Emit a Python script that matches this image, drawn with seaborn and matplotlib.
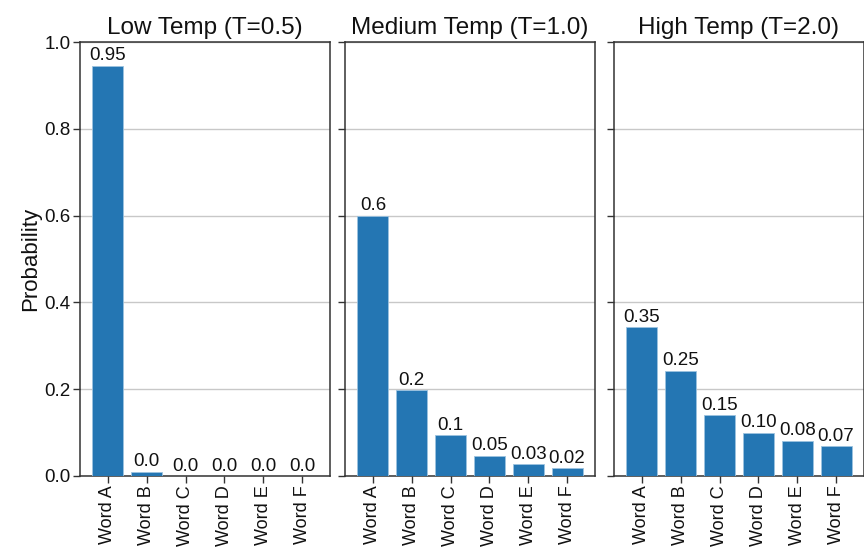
import matplotlib
matplotlib.use("Agg")
import matplotlib.pyplot as plt
import seaborn as sns
import pandas as pd

words = ["Word A", "Word B", "Word C", "Word D", "Word E", "Word F"]
titles = ["Low Temp (T=0.5)", "Medium Temp (T=1.0)", "High Temp (T=2.0)"]
low_vals = [0.945, 0.01, 0.0, 0.0, 0.0, 0.0]
med_vals = [0.6, 0.198, 0.094, 0.047, 0.027, 0.018]
high_vals = [0.343, 0.243, 0.14, 0.10, 0.081, 0.068]
low_labels = ["0.95", "0.0", "0.0", "0.0", "0.0", "0.0"]
med_labels = ["0.6", "0.2", "0.1", "0.05", "0.03", "0.02"]
high_labels = ["0.35", "0.25", "0.15", "0.10", "0.08", "0.07"]
y_ticks = [0.0, 0.2, 0.4, 0.6, 0.8, 1.0]

sns.set_theme(style="ticks")
plt.rcParams["font.family"] = ["Liberation Sans", "DejaVu Sans"]

W, H = 864, 549
fig = plt.figure(figsize=(W / 100, H / 100), dpi=100)
fig.patch.set_facecolor("white")

top, bottom = 42, 476
lefts = [80, 345, 614]
pw = 250
bar_color = "#2476b3"

series = [(low_vals, low_labels), (med_vals, med_labels), (high_vals, high_labels)]
axes = []
for i, (vals, labs) in enumerate(series):
    ax = fig.add_axes([lefts[i] / W, 1 - bottom / H, pw / W, (bottom - top) / H])
    df = pd.DataFrame({"word": words, "prob": vals})
    sns.barplot(data=df, x="word", y="prob", ax=ax, color=bar_color,
                saturation=1, width=0.8, edgecolor="#9cc3e0", linewidth=0.6,
                zorder=3)
    ax.bar_label(ax.containers[0], labels=labs, padding=1, fontsize=13.5,
                 color="#111111")
    ax.set_xlim(-0.72, 5.72)
    ax.set_ylim(0, 1.0)
    ax.set_yticks(y_ticks)
    ax.yaxis.grid(True, color="#c8c8c8", linewidth=1.0, zorder=0)
    ax.set_axisbelow(True)
    ax.set_title(titles[i], fontsize=17.5, pad=6, color="#111111")
    ax.set_xlabel("")
    ax.tick_params(axis="x", rotation=90, labelsize=13, length=5, width=1,
                   pad=2, colors="#333333", labelcolor="#111111")
    ax.tick_params(axis="y", labelsize=13.5, length=5, width=1, pad=2,
                   colors="#333333", labelcolor="#111111")
    for s in ax.spines.values():
        s.set_color("#333333")
        s.set_linewidth(1.1)
    if i == 0:
        ax.set_ylabel("Probability", fontsize=16, color="#111111", labelpad=2)
        ax.set_yticklabels([f"{t:.1f}" for t in y_ticks])
    else:
        ax.set_ylabel("")
        ax.set_yticklabels([])
    axes.append(ax)

fig.savefig("out.png", dpi=100, facecolor="white")
